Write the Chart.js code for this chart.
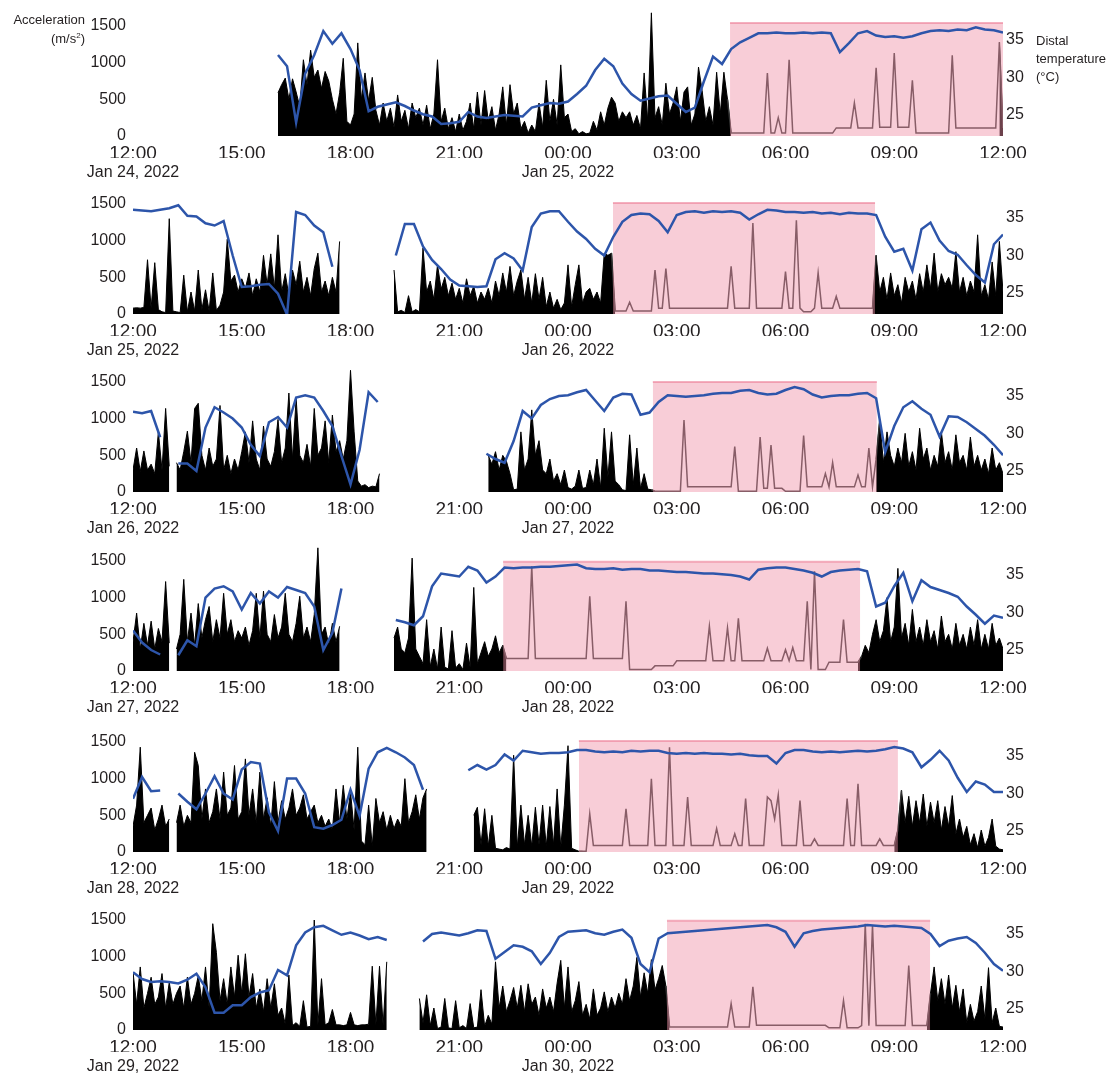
<!DOCTYPE html>
<html>
<head>
<meta charset="utf-8">
<script src="https://cdn.jsdelivr.net/npm/chart.js@4.4.1/dist/chart.umd.min.js"></script>
<style>
  body { margin: 0; background: #fff; width: 1113px; height: 1074px; position: relative; overflow: hidden;
         font-family: "Liberation Sans", Arial, sans-serif; color: #231f20; }
  .note { position: absolute; font-size: 13px; z-index: 2; }
  canvas { position: absolute; left: 0; }
</style>
</head>
<body>
<div class="note" style="right:1028px;top:12px;line-height:16px;text-align:right">Acceleration<br>(m/s<sup style="font-size:8px">2</sup>)</div>
<div class="note" style="left:1036px;top:32px;line-height:18px">Distal<br>temperature<br>(°C)</div>
<script>
// x axis: hours after 12:00 (0..24); acceleration every 6 min, temperature every 15 min
const timeLabels = ['12:00', '15:00', '18:00', '21:00', '00:00', '03:00', '06:00', '09:00', '12:00'];
const timeTicks = [0, 3, 6, 9, 12, 15, 18, 21, 24];
const dateLabels = [
    ['Jan 24, 2022', 'Jan 25, 2022'],
    ['Jan 25, 2022', 'Jan 26, 2022'],
    ['Jan 26, 2022', 'Jan 27, 2022'],
    ['Jan 27, 2022', 'Jan 28, 2022'],
    ['Jan 28, 2022', 'Jan 29, 2022'],
    ['Jan 29, 2022', 'Jan 30, 2022']
];
const accelTicks = [0, 500, 1000, 1500];
const tempTicks = [25, 30, 35];

// sleep (pink) periods, hours after 12:00
const sleepStart = [16.47, 13.24, 14.34, 10.21, 12.30, 14.73];
const sleepEnd = [24, 20.47, 20.52, 20.06, 21.10, 21.99];
const sleepTop = [1540, 1515, 1500, 1490, 1515, 1490];

const accel1 = [
    null,null,null,null,null,null,null,null,null,null,
    null,null,null,null,null,null,null,null,null,null,
    null,null,null,null,null,null,null,null,null,null,
    null,null,null,null,null,null,null,null,null,null,
    590,700,790,500,780,600,400,1040,700,1170,
    800,900,650,880,750,500,300,590,1060,200,
    150,300,1270,500,860,480,800,350,150,450,
    200,380,120,560,200,350,100,450,250,380,
    150,420,100,300,1040,200,380,100,250,60,
    300,80,200,450,100,600,150,620,200,400,
    80,300,670,150,700,300,450,100,200,40,
    150,60,450,120,760,200,500,150,970,250,
    300,60,100,30,60,30,40,200,80,330,
    150,380,530,450,200,330,250,330,150,280,
    100,860,200,1680,250,400,150,720,300,450,
    670,200,600,670,150,300,940,620,200,400,
    150,870,300,870,500,40,40,40,40,40,
    40,40,40,40,40,860,40,40,250,40,
    40,1040,40,40,40,40,40,40,40,40,
    40,40,40,40,110,110,110,110,110,450,
    110,110,110,110,110,930,120,120,120,120,
    1130,120,120,120,120,760,40,40,40,40,
    40,40,40,40,40,40,1100,110,110,110,
    110,110,110,110,110,110,110,110,110,1280,
    110
];
const accel2 = [
    80,85,80,90,740,80,700,60,30,20,
    1300,40,30,20,530,30,300,40,600,60,
    330,40,560,50,120,300,1020,450,530,300,
    480,350,560,250,480,300,800,400,820,350,
    1080,300,550,250,600,400,720,300,500,250,
    620,830,300,450,250,500,300,990,null,null,
    null,null,null,null,null,null,null,null,null,null,
    null,null,600,30,50,20,250,30,60,30,
    900,300,450,200,670,340,500,250,420,200,
    350,150,480,250,380,150,300,200,350,150,
    450,250,560,300,650,250,450,600,200,500,
    150,550,200,500,100,300,80,200,60,150,
    670,100,400,670,150,300,350,200,300,150,
    830,800,830,40,40,40,40,160,40,40,
    40,40,40,40,600,80,80,620,80,80,
    80,80,80,80,80,80,80,80,80,80,
    80,80,80,80,80,650,80,80,80,80,
    80,1240,80,80,80,80,80,80,80,80,
    580,80,80,1280,80,30,30,30,80,560,
    80,80,80,80,240,80,80,80,80,80,
    80,80,80,80,80,800,300,500,200,560,
    250,400,150,500,300,450,200,550,300,670,
    350,830,300,550,400,500,350,850,300,500,
    250,450,300,1080,250,400,200,710,250,990,
    300
];
const accel3 = [
    300,600,280,560,300,380,250,820,300,1140,
    350,null,400,300,550,830,400,1140,1210,500,
    300,600,350,450,1180,300,500,250,450,300,
    550,820,400,970,450,300,900,450,350,550,
    990,400,600,1350,450,1280,500,400,650,350,
    1140,500,600,970,400,1050,550,700,450,700,
    1660,820,150,80,100,60,80,70,250,null,
    null,null,null,null,null,null,null,null,null,null,
    null,null,null,null,null,null,null,null,null,null,
    null,null,null,null,null,null,null,null,500,380,
    550,300,500,420,250,30,40,820,300,450,
    1120,500,700,300,250,450,150,250,100,300,
    60,40,80,300,50,60,300,100,450,60,
    870,200,820,150,100,30,20,780,100,600,
    50,250,40,30,10,10,10,10,10,10,
    10,10,980,70,70,70,70,70,70,70,
    70,70,70,70,70,70,620,10,10,10,
    10,10,10,750,50,50,640,50,50,50,
    10,10,10,10,10,770,70,70,70,70,
    70,250,70,400,70,70,70,70,70,70,
    230,70,70,600,70,450,980,400,820,500,
    350,600,400,800,350,550,300,870,450,600,
    300,500,350,820,400,550,300,780,400,500,
    300,750,350,500,300,450,250,600,300,400,
    250
];
const accel4 = [
    400,790,300,650,350,680,300,580,400,1220,
    380,null,300,500,1250,400,790,350,920,450,
    700,880,400,700,450,1060,500,700,400,550,
    450,600,350,550,1060,450,1090,500,400,770,
    450,600,1060,500,400,650,1020,450,600,400,
    770,1680,500,600,350,650,400,610,null,null,
    null,null,null,null,null,null,null,null,null,null,
    null,null,450,600,300,250,450,1540,300,200,
    100,700,60,300,30,600,50,30,550,40,
    100,20,380,50,1140,100,250,400,200,300,
    480,250,350,170,170,170,170,170,170,170,
    1430,170,170,170,170,170,170,170,170,170,
    170,170,170,170,170,170,1020,170,170,170,
    170,170,170,170,170,170,950,20,20,20,
    20,20,20,20,70,70,70,70,70,70,
    140,140,140,140,140,140,140,140,140,610,
    140,140,140,140,590,140,140,720,140,140,
    140,140,140,140,140,310,140,140,140,140,
    290,140,320,140,140,140,950,20,1360,20,
    20,20,120,120,120,120,700,120,120,120,
    120,200,350,250,500,700,400,550,1000,400,
    600,1400,450,650,350,840,400,600,350,700,
    400,550,300,750,400,500,300,650,350,500,
    300,600,350,700,300,500,300,650,350,450,
    300
];
const accel5 = [
    350,640,1430,400,500,600,300,450,640,350,
    450,null,400,640,350,500,400,1360,1180,450,
    860,400,550,860,450,1090,500,600,1180,450,
    550,1270,500,860,400,1090,450,740,350,960,
    400,700,450,600,860,500,600,780,450,550,
    640,400,500,350,450,300,860,400,910,450,
    820,300,1430,150,100,640,80,730,400,550,
    300,500,320,450,350,1000,400,550,780,450,
    740,860,null,null,null,null,null,null,null,null,
    null,null,null,null,500,610,100,590,80,500,
    50,40,30,60,40,1320,60,640,100,500,
    80,610,100,640,80,620,100,860,60,640,
    1450,50,30,10,10,10,520,90,90,90,
    90,90,90,90,90,90,590,90,90,90,
    90,90,90,1000,90,90,90,90,1430,90,
    90,90,90,750,90,90,90,90,90,90,
    90,320,90,90,90,90,250,90,90,730,
    90,90,90,90,90,750,700,450,780,90,
    90,90,90,90,700,90,90,90,180,90,
    90,90,90,90,90,90,90,730,90,90,
    930,90,90,90,90,90,180,90,90,90,
    90,300,840,400,760,350,700,400,790,350,
    680,400,700,300,620,350,770,250,450,200,
    350,100,250,60,300,80,200,450,80,40,
    30
];
const accel6 = [
    790,350,860,300,500,720,350,450,770,300,
    650,350,500,600,300,720,350,500,740,400,
    860,300,1450,1060,400,700,350,860,450,1020,
    500,1040,450,770,300,560,250,700,300,630,
    200,300,80,750,60,100,50,400,40,50,
    1500,70,700,70,100,280,70,70,60,70,
    240,70,60,70,70,80,870,70,870,60,
    930,null,null,null,null,null,null,null,null,430,
    100,480,60,300,20,40,430,30,20,400,
    30,60,20,360,30,40,550,50,200,80,
    930,300,600,250,400,580,300,610,250,630,
    350,450,200,560,300,450,250,640,950,300,
    860,250,400,660,200,350,150,560,200,300,
    520,250,450,300,500,350,700,400,600,990,
    450,780,500,960,550,700,880,600,40,40,
    40,40,40,40,40,40,40,40,40,40,
    40,40,40,40,40,360,40,40,40,40,
    40,590,64,64,64,64,64,64,64,64,
    64,64,64,64,64,64,64,64,64,64,
    64,64,30,30,30,30,400,30,30,30,
    30,60,1450,60,1430,60,60,60,60,60,
    60,60,60,60,880,60,60,60,60,60,
    500,860,400,700,350,750,300,610,250,560,
    100,350,120,250,600,150,850,100,300,50,
    40
];

const temp1 = [
    null,null,null,null,null,null,null,null,
    null,null,null,null,null,null,null,null,
    33.0,31.5,24.0,30.5,33.0,36.2,34.5,35.9,
    33.8,31.0,25.5,26.1,26.4,26.7,26.2,25.6,
    25.1,24.8,23.8,23.9,24.1,25.4,24.8,24.6,
    24.8,25.0,24.9,24.8,26.0,26.3,26.6,26.5,
    26.8,27.8,28.9,31.0,32.5,31.5,29.2,27.8,
    26.9,27.2,27.5,27.6,26.5,25.4,26.0,29.5,
    32.8,31.8,33.8,34.7,35.3,35.9,35.9,36.0,
    35.9,35.9,36.0,35.9,36.0,35.9,33.4,34.6,
    35.9,36.2,35.6,35.4,35.5,35.3,35.5,35.9,
    36.2,36.3,36.2,36.4,36.3,36.7,36.4,36.3,
    36.0
];
const temp2 = [
    36.1,36.0,35.9,36.1,36.3,36.7,35.3,35.2,
    34.3,34.0,34.6,30.0,25.8,25.9,26.1,26.2,
    24.9,22.1,35.8,35.4,34.0,33.1,28.5,null,
    null,null,null,null,null,30.0,34.2,34.2,
    31.2,29.4,28.2,26.8,26.0,25.9,25.8,25.9,
    29.5,30.3,29.6,28.0,33.8,35.6,35.9,35.9,
    34.5,33.2,32.2,30.9,30.0,32.5,34.5,35.4,
    35.6,35.5,34.6,33.1,35.4,35.8,35.9,35.7,
    35.9,35.8,35.9,35.7,34.8,35.5,36.1,36.0,
    35.8,35.8,35.7,35.8,35.6,35.7,35.5,35.7,
    35.6,35.6,35.4,32.5,30.5,30.9,28.0,33.5,
    34.4,32.0,30.6,30.1,28.7,27.4,26.4,31.5,
    32.8
];
const temp3 = [
    32.9,32.7,33.0,29.5,null,26.0,26.0,25.0,
    30.8,33.5,32.8,32.0,30.8,28.5,27.0,31.5,
    32.2,30.8,34.8,35.1,34.8,33.0,31.0,27.0,
    23.2,27.8,35.5,34.2,null,null,null,null,
    null,null,null,null,null,null,null,27.3,
    26.6,26.1,29.0,33.0,32.0,33.8,34.6,35.0,
    35.1,35.5,35.8,34.4,33.0,34.8,35.3,35.2,
    32.5,32.8,34.2,35.1,35.0,34.9,35.0,35.1,
    35.3,35.4,35.4,35.7,35.8,35.4,35.2,35.3,
    35.8,36.2,35.9,35.2,34.8,35.0,35.1,35.1,
    35.3,35.4,34.7,27.5,31.0,33.5,34.3,33.3,
    32.5,29.6,32.3,32.2,31.5,30.6,29.7,28.5,
    27.1
];
const temp4 = [
    27.6,26.0,25.0,24.4,null,24.3,26.3,25.5,
    32.0,33.2,33.5,32.8,30.4,32.6,31.2,32.8,
    32.0,33.4,33.0,32.6,30.8,25.0,27.3,33.2,
    null,null,null,null,null,29.0,28.7,28.3,
    29.5,33.5,35.2,35.0,34.8,36.1,35.6,34.0,
    34.8,36.0,35.9,36.0,36.0,36.1,36.1,36.2,
    36.3,36.4,35.9,35.8,35.8,35.9,35.7,35.8,
    35.8,35.6,35.6,35.5,35.4,35.4,35.3,35.2,
    35.2,35.1,35.0,34.8,34.4,35.7,35.9,36.0,
    36.0,35.8,35.6,35.3,34.8,35.4,35.6,35.7,
    35.8,35.5,30.8,31.3,33.5,35.3,31.5,34.3,
    33.4,33.0,32.6,32.1,30.8,29.7,28.5,29.6,
    29.3
];
const temp5 = [
    29.3,32.2,30.3,30.4,null,30.0,28.9,27.9,
    30.0,32.3,30.0,29.2,33.2,34.2,34.0,27.5,
    25.0,32.0,32.0,30.0,25.5,25.3,25.8,26.5,
    30.5,27.0,33.3,35.5,36.1,35.5,34.8,33.8,
    30.5,null,null,null,null,33.1,33.8,33.2,
    33.8,35.2,34.4,35.7,35.5,35.3,35.4,35.4,
    35.5,35.8,35.8,35.6,35.5,35.6,35.5,35.7,
    35.6,35.7,35.7,35.4,35.3,35.4,35.3,35.4,
    35.3,35.3,35.2,35.3,35.1,35.0,35.0,34.0,
    35.4,35.8,35.8,35.6,35.5,35.6,35.5,35.6,
    35.7,35.6,35.7,35.9,36.2,36.0,35.5,33.5,
    34.5,35.7,34.4,32.1,30.2,31.6,31.2,30.2,
    30.2
];
const temp6 = [
    29.9,29.0,28.6,28.7,28.6,28.4,28.9,29.7,
    27.9,24.5,24.5,25.5,25.5,26.6,27.2,27.5,
    30.2,29.5,33.5,35.2,35.9,36.1,35.5,34.9,
    35.2,34.8,34.3,34.6,34.2,null,null,null,
    34.0,35.0,35.2,35.0,34.8,35.1,35.5,35.4,
    31.7,32.6,33.5,33.3,32.7,31.0,32.5,34.6,
    35.3,35.4,35.5,35.1,34.9,35.3,35.6,34.5,
    31.0,29.9,34.4,35.1,35.2,35.3,35.4,35.5,
    35.6,35.7,35.8,35.9,36.0,36.1,36.2,35.9,
    35.3,33.3,35.1,35.4,35.6,35.7,35.8,35.9,
    36.0,36.2,36.1,36.0,36.1,36.0,35.9,35.8,
    35.0,33.4,34.1,34.4,34.6,33.8,32.5,31.0,
    30.1
];

const accelSeries = [accel1, accel2, accel3, accel4, accel5, accel6];
const tempSeries = [temp1, temp2, temp3, temp4, temp5, temp6];

const FONT = '"Liberation Sans", Arial, sans-serif';
const INK = '#231f20';
const panelBase = [136, 314, 492, 671, 852, 1030];   // page y of the zero line of each panel

const fixedTicks = values => scale => { scale.ticks = values.map(v => ({ value: v })); };

const makePanel = (p) => {
    const canvas = document.createElement('canvas');
    canvas.width = 1113;
    canvas.height = 193;
    canvas.style.top = (panelBase[p] - 145) + 'px';
    document.body.appendChild(canvas);

    // awake part is drawn as a filled black trace, the sleep part as a plain line under the pink box
    const asleep = h => h > sleepStart[p] + 0.1 && h < sleepEnd[p] - 0.1;
    const nearSleep = h => h >= sleepStart[p] - 0.1 && h <= sleepEnd[p] + 0.1;
    const awakePoints = accelSeries[p].map((v, i) => ({ x: i / 10, y: asleep(i / 10) ? null : v }));
    const sleepLine = accelSeries[p].map((v, i) => ({ x: i / 10, y: nearSleep(i / 10) ? v : null }));
    const tempPoints = tempSeries[p].map((v, i) => ({ x: i / 4, y: v }));
    const sleepBox = [{ x: sleepStart[p], y: sleepTop[p] }, { x: sleepEnd[p], y: sleepTop[p] }];

    new Chart(canvas, {
        type: 'line',
        data: {
            datasets: [{
                label: 'Distal temperature',
                data: tempPoints,
                yAxisID: 'y1',
                borderColor: '#2d55aa',
                borderWidth: 2.5,
                pointRadius: 0,
                tension: 0,
                fill: false,
                order: 0
            }, {
                label: 'Sleep',
                data: sleepBox,
                yAxisID: 'y',
                borderColor: 'rgba(236,125,150,0.6)',
                borderWidth: 2,
                backgroundColor: 'rgba(239,145,166,0.45)',
                pointRadius: 0,
                fill: 'origin',
                order: 1
            }, {
                label: 'Acceleration (sleep)',
                data: sleepLine,
                yAxisID: 'y',
                borderColor: '#333',
                borderWidth: 1.5,
                pointRadius: 0,
                tension: 0,
                fill: false,
                order: 2
            }, {
                label: 'Acceleration',
                data: awakePoints,
                yAxisID: 'y',
                borderColor: '#000',
                borderWidth: 1,
                backgroundColor: '#000',
                pointRadius: 0,
                tension: 0,
                fill: 'origin',
                order: 3
            }]
        },
        options: {
            responsive: false,
            animation: false,
            devicePixelRatio: 1,
            events: [],
            layout: { padding: { top: 20, left: 0, right: 0, bottom: 0 } },
            plugins: { legend: { display: false }, tooltip: { enabled: false } },
            scales: {
                x: {
                    type: 'linear', position: 'bottom', min: 0, max: 24,
                    grid: { display: false, drawTicks: false }, border: { display: false },
                    ticks: { font: { family: FONT, size: 19 }, color: INK, padding: 6, maxRotation: 0, autoSkip: false,
                             callback: (v, i) => timeLabels[i] },
                    afterBuildTicks: fixedTicks(timeTicks),
                    afterFit: s => { s.height = 22; }
                },
                x2: {
                    type: 'linear', position: 'bottom', min: 0, max: 24, weight: 1,
                    grid: { display: false, drawTicks: false }, border: { display: false },
                    ticks: { font: { family: FONT, size: 16 }, color: INK, padding: 5, maxRotation: 0, autoSkip: false,
                             callback: (v, i) => dateLabels[p][i] },
                    afterBuildTicks: fixedTicks([0, 12]),
                    afterFit: s => { s.height = 26; }
                },
                y: {
                    position: 'left', min: 0, max: 1705,
                    grid: { display: false, drawTicks: false }, border: { display: false },
                    ticks: { font: { family: FONT, size: 16 }, color: INK, padding: 7, callback: v => String(v) },
                    afterBuildTicks: fixedTicks(accelTicks),
                    afterFit: s => { s.width = 133; }
                },
                y1: {
                    position: 'right', min: 22.2, max: 38.87,
                    grid: { display: false, drawTicks: false }, border: { display: false },
                    ticks: { font: { family: FONT, size: 16 }, color: INK, padding: 3, callback: v => String(v) },
                    afterBuildTicks: fixedTicks(tempTicks),
                    afterFit: s => { s.width = 110; }
                }
            }
        }
    });
};

accelSeries.forEach((_, p) => makePanel(p));
</script>
</body>
</html>
